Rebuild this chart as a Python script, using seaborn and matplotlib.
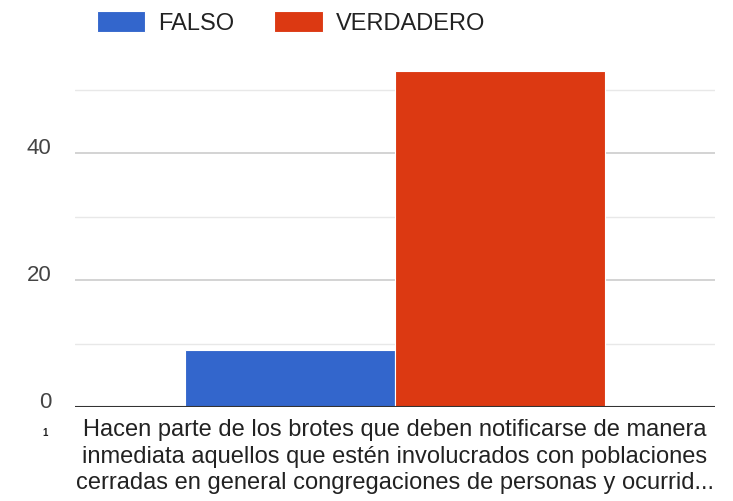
import pandas as pd
import matplotlib.pyplot as plt
import seaborn as sns

# data
pregunta = ["Hacen parte de los brotes que deben notificarse de manera\n"
            "inmediata aquellos que estén involucrados con poblaciones\n"
            "cerradas en general congregaciones de personas y ocurrid..."]
respuestas = ["FALSO", "VERDADERO"]
conteos = [9, 53]
colores = ["#3366cc", "#dc3912"]
y_ticks = [0, 20, 40]

df = pd.DataFrame({
    "pregunta": pregunta * len(respuestas),
    "respuesta": respuestas,
    "n": conteos,
})

sns.set_style("white")
plt.rcParams["font.family"] = ["Liberation Sans", "DejaVu Sans"]

fig = plt.figure(figsize=(7.33, 5.02), dpi=100)
ax = fig.add_axes([0.102, 0.187, 0.873, 0.695])

sns.barplot(data=df, x="pregunta", y="n", hue="respuesta", palette=colores,
            saturation=1, width=0.656, edgecolor="white", linewidth=0.8, ax=ax)

ax.set_ylim(0, 55)
ax.set_xlim(-0.5, 0.5)
ax.set_yticks(y_ticks)
ax.set_yticks([10, 30, 50], minor=True)
ax.grid(axis="y", which="major", color="#cccccc", linewidth=1.2)
ax.grid(axis="y", which="minor", color="#e8e8e8", linewidth=1)
ax.set_axisbelow(True)
ax.axhline(0, color="#333333", linewidth=1.5)
for s in ax.spines.values():
    s.set_visible(False)
ax.tick_params(axis="y", which="both", length=0, labelsize=16, labelcolor="#444444", pad=17)
for lbl in ax.get_yticklabels():
    lbl.set_va("baseline")
ax.tick_params(axis="x", length=0, labelsize=17, labelcolor="#222222", pad=8)
for lbl in ax.get_xticklabels():
    lbl.set_linespacing(1.27)
ax.set_xlabel("")
ax.set_ylabel("")

# the little cut-off category marker at bottom left
fig.text(45 / 733, 1 - 433 / 502, "1", fontsize=7, fontweight="bold", color="#222222",
         ha="center", va="center")

ax.legend_.remove()
handles, labels = ax.get_legend_handles_labels()
fig.legend(handles, labels, loc="center", bbox_to_anchor=(0.397, 0.953), ncol=2,
           frameon=False, fontsize=17, handlelength=2.05, handleheight=1.0,
           handletextpad=0.55, columnspacing=1.7, labelcolor="#222222")

fig.savefig("out.png", dpi=100)
